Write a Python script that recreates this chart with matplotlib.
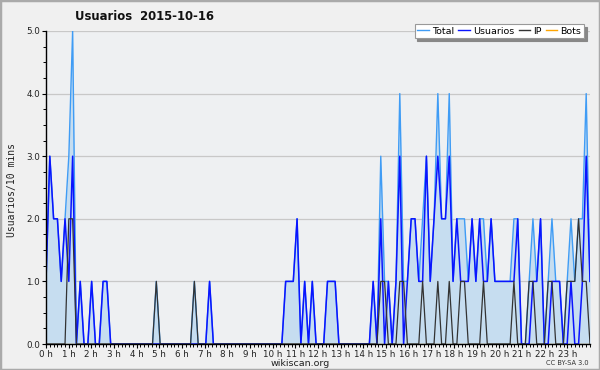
import matplotlib
matplotlib.use("Agg")
import matplotlib.pyplot as plt
from matplotlib.lines import Line2D
from matplotlib.patches import Rectangle
from matplotlib.ticker import MultipleLocator, FixedLocator
import numpy as np

# =========================
# datos: editores cada 10 min (144 intervalos)
# =========================
usuarios = [
    1, 3, 2, 2, 1, 2, 1, 3, 0, 1, 0, 0, 1, 0, 0, 1, 1, 0,      # 0-17
    0, 0, 0, 0, 0, 0, 0, 0, 0, 0, 0, 0, 0, 0, 0, 0, 0, 0,      # 18-35
    0, 0, 0, 0, 0, 0, 0, 1, 0, 0, 0, 0, 0, 0, 0, 0, 0, 0,      # 36-53
    0, 0, 0, 0, 0, 0, 0, 0, 0, 1, 1, 1, 2, 0, 1, 0, 1, 0,      # 54-71
    0, 0, 1, 1, 1, 0, 0, 0, 0, 0, 0, 0, 0, 0, 1, 0, 2, 0,      # 72-89
    1, 0, 1, 3, 0, 1, 2, 2, 1, 1, 3, 1, 2, 3, 2, 2, 3, 1,      # 90-107
    2, 1, 1, 1, 2, 1, 2, 1, 1, 2, 1, 1, 1, 1, 1, 1, 2, 0,      # 108-125
    0, 0, 1, 1, 2, 0, 0, 1, 1, 1, 0, 0, 1, 0, 0, 1, 3, 1,      # 126-143
]
ip = [
    0, 0, 0, 0, 0, 0, 2, 2, 0, 0, 0, 0, 0, 0, 0, 0, 0, 0,
    0, 0, 0, 0, 0, 0, 0, 0, 0, 0, 0, 1, 0, 0, 0, 0, 0, 0,
    0, 0, 0, 1, 0, 0, 0, 0, 0, 0, 0, 0, 0, 0, 0, 0, 0, 0,
    0, 0, 0, 0, 0, 0, 0, 0, 0, 0, 0, 0, 0, 0, 0, 0, 0, 0,
    0, 0, 0, 0, 0, 0, 0, 0, 0, 0, 0, 0, 0, 0, 0, 0, 1, 1,
    0, 0, 0, 1, 1, 0, 0, 0, 0, 1, 0, 0, 0, 1, 0, 0, 1, 0,
    0, 1, 1, 0, 0, 0, 0, 1, 0, 0, 0, 0, 0, 0, 0, 1, 0, 0,
    0, 1, 1, 0, 0, 0, 1, 1, 0, 0, 0, 1, 1, 1, 2, 1, 1, 0,
]
bots = [0] * 144
hour_labels = [f"{h} h" for h in range(24)]

usuarios = np.array(usuarios)
ip = np.array(ip)
bots = np.array(bots)
total = usuarios + ip + bots
x = np.arange(len(total)) * 24 / (len(total) - 1)

c_total = '#3f9cf5'
c_fill = '#c6ddf0'
c_user = '#0a14ff'
c_ip = '#333333'
c_bots = '#ffa500'

fig = plt.figure(figsize=(6, 3.7), dpi=100)
fig.patch.set_facecolor('#f0f0f0')
fig.patches.append(Rectangle((0, 0), 1, 1, transform=fig.transFigure,
                             fill=False, edgecolor='#aaaaaa', lw=2.5))

ax = fig.add_axes([46/600, 26/370, 544/600, 313/370])
ax.set_facecolor('#eef0f2')

ax.fill_between(x, 0, total, color=c_fill, lw=0, zorder=1)
ax.plot(x, total, color=c_total, lw=1.0, zorder=3)
ax.plot(x, usuarios, color=c_user, lw=1.1, zorder=4)
ax.plot(x, ip, color=c_ip, lw=0.9, zorder=5)
ax.plot(x, bots, color=c_bots, lw=0.9, zorder=2)

ax.set_xlim(0, 24)
ax.set_ylim(0, 5)
for s in ['top', 'right']:
    ax.spines[s].set_visible(False)
for s in ['left', 'bottom']:
    ax.spines[s].set_color('black')
    ax.spines[s].set_linewidth(1.0)
    ax.spines[s].set_zorder(6)

ax.yaxis.set_major_locator(MultipleLocator(1))
ax.yaxis.set_minor_locator(MultipleLocator(0.25))
ax.set_yticklabels([f"{v:.1f}" for v in ax.get_yticks()])
ax.xaxis.set_major_locator(FixedLocator(range(24)))
ax.set_xticklabels(hour_labels)
ax.xaxis.set_minor_locator(MultipleLocator(1/6))
ax.tick_params(which='major', length=3.2, width=0.8, labelsize=6.3, pad=1.0,
               colors='black', labelcolor='#222222')
ax.tick_params(which='minor', length=2.2, width=0.7)
ax.grid(axis='y', color='#c8c8c8', lw=0.9, zorder=0)
ax.set_axisbelow(True)

fig.text(75/600, 1-16/370, 'Usuarios  2015-10-16', fontsize=8.4,
         fontweight='bold', va='center', ha='left', color='#111111')
fig.text(12/600, 1-190/370, 'Usuarios/10 mins', rotation=90, fontsize=7,
         family='DejaVu Sans Mono', va='center', ha='center', color='#222222')
fig.text(300/600, 1-363/370, 'wikiscan.org', fontsize=6.8, ha='center',
         va='center', color='#222222')
fig.text(589/600, 1-363/370, 'CC BY-SA 3.0', fontsize=4.8, ha='right',
         va='center', color='#333333')

handles = [Line2D([], [], color=c_total, lw=1.0),
           Line2D([], [], color=c_user, lw=1.0),
           Line2D([], [], color=c_ip, lw=1.0),
           Line2D([], [], color=c_bots, lw=1.0)]
leg = fig.legend(handles, ['Total', 'Usuarios', 'IP', 'Bots'], ncol=4,
                 loc='upper right', bbox_to_anchor=(589/600, 1-19/370),
                 fontsize=6.8, handlelength=1.2, handletextpad=0.35,
                 columnspacing=0.45, borderpad=0.3, fancybox=False,
                 shadow={'color': '#888888', 'alpha': 1.0}, framealpha=1.0,
                 edgecolor='#999999')
leg.get_frame().set_linewidth(0.8)

fig.savefig('out.png', dpi=100, facecolor=fig.get_facecolor())
